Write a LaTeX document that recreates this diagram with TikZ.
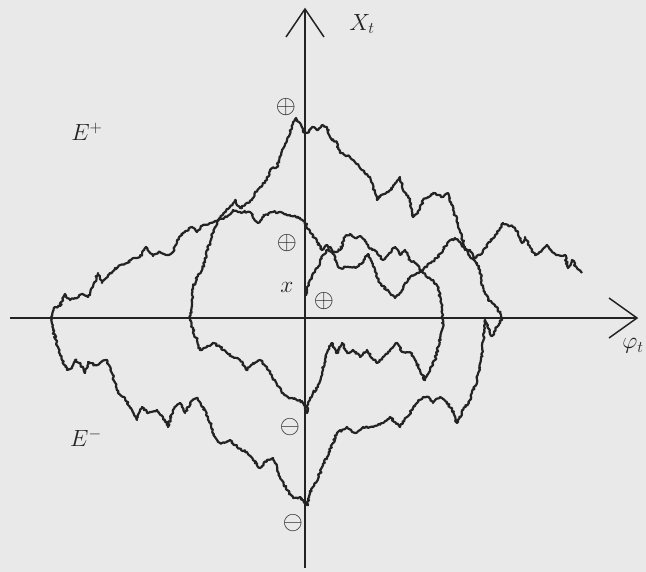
\documentclass[tikz,border=0pt]{standalone}
\usetikzlibrary{decorations.pathmorphing}
\definecolor{paper}{RGB}{233,233,233}
\definecolor{ink}{RGB}{35,35,35}
\tikzset{
  axisline/.style={draw=ink, line width=1.5pt},
  walk/.style={draw=ink, line width=2.2pt, line join=round,
    decorate, decoration={random steps, segment length=1.6pt, amplitude=1.1pt}},
  lbl/.style={text=ink, inner sep=0pt, font=\huge, scale=1.13, transform shape},
  sgn/.style={lbl, scale=1.1},
}
\begin{document}
\begin{tikzpicture}[x=1pt,y=-1pt]
\fill[paper] (0,0) rectangle (646,572);
\useasboundingbox (0,0) rectangle (646,572);
% axes
\coordinate (hl) at (10,318);
\coordinate (hr) at (637,318);
\coordinate (ha) at (609,298);
\coordinate (hb) at (609,338);
\coordinate (vb) at (305,568);
\coordinate (vt) at (305,9);
\coordinate (va) at (286,37);
\coordinate (vc) at (324,37);
\draw[axisline] (hl) -- (hr);
\draw[axisline] (ha) -- (hr) -- (hb);
\draw[axisline] (vb) -- (vt);
\draw[axisline] (va) -- (vt) -- (vc);
% labels
\node[lbl] (xt) at (362,24) {$X_t$};
\node[lbl, anchor=east] (phit) at (644,346) {$\varphi_t$};
\node[lbl] (ep) at (87,132) {$E^+$};
\node[lbl] (em) at (86,438) {$E^-$};
\node[sgn] (p1) at (286,107) {$\oplus$};
\node[sgn] (p2) at (287,243) {$\oplus$};
\node[lbl] (x0) at (287,287) {$x$};
\node[sgn] (p3) at (324,301) {$\oplus$};
\node[sgn] (m1) at (290,427) {$\ominus$};
\node[sgn] (m2) at (293,523) {$\ominus$};
% the path
\pgfmathsetseed{7}
\draw[walk] (306,296) -- (307,290) -- (310,280) -- (315,272) -- (320,263) -- (323,255) -- (327,250) -- (333,253) -- (340,250) -- (345,237) -- (350,234) -- (355,238) -- (360,236) -- (365,240) -- (368,245) -- (372,250) -- (377,252) -- (383,260) -- (388,255) -- (395,247) -- (400,255) -- (405,250) -- (410,260) -- (415,263) -- (423,273) -- (428,278) -- (433,280) -- (438,287) -- (441,300) -- (442,313) -- (443,320)
 -- (442,330) -- (438,347) -- (435,360) -- (430,370) -- (425,380) -- (420,370) -- (415,360) -- (410,352) -- (403,352) -- (397,343) -- (390,350) -- (383,357) -- (377,363) -- (372,358) -- (367,350) -- (360,357) -- (353,350) -- (347,353) -- (342,343) -- (337,353) -- (332,343) -- (328,350) -- (325,360) -- (322,373) -- (318,387) -- (313,393) -- (308,403) -- (307,413)
 -- (304,405) -- (300,400) -- (294,399) -- (288,397) -- (283,393) -- (277,385) -- (272,377) -- (267,367) -- (260,360) -- (253,363) -- (247,370) -- (240,360) -- (233,357) -- (227,353) -- (220,347) -- (213,343) -- (207,347) -- (200,350) -- (197,340) -- (193,330) -- (190,318)
 -- (192,303) -- (193,287) -- (197,277) -- (202,270) -- (205,260) -- (207,250) -- (210,243) -- (213,233) -- (217,223) -- (220,218) -- (225,212) -- (230,207) -- (235,200) -- (240,208) -- (245,205) -- (252,200) -- (255,193) -- (260,187) -- (267,180) -- (270,170) -- (277,167) -- (280,157) -- (287,140) -- (292,127) -- (296,118) -- (300,123) -- (303,132) -- (307,133) -- (312,127) -- (317,130) -- (322,125) -- (327,128) -- (330,137) -- (337,143) -- (340,153) -- (350,157) -- (353,160) -- (362,170) -- (370,177) -- (377,200) -- (380,197) -- (387,192) -- (393,187) -- (400,177) -- (403,190) -- (410,200) -- (413,217) -- (418,213) -- (423,200) -- (433,193) -- (443,197) -- (448,193) -- (453,210) -- (458,223) -- (462,237) -- (465,247) -- (470,257) -- (477,263) -- (480,270) -- (483,287) -- (488,300) -- (495,305) -- (500,313) -- (502,318) -- (497,327) -- (492,336) -- (488,328) -- (485,320)
 -- (484,330) -- (482,353) -- (477,380) -- (470,400) -- (463,410) -- (457,423) -- (452,410) -- (447,402) -- (440,397) -- (433,403) -- (428,397) -- (423,397) -- (417,403) -- (407,417) -- (400,427) -- (390,417) -- (383,423) -- (373,427) -- (363,427) -- (355,433) -- (347,427) -- (337,433) -- (333,443) -- (327,457) -- (320,473) -- (315,483) -- (310,493) -- (307,505)
 -- (305,503) -- (300,497) -- (293,498) -- (287,490) -- (280,477) -- (277,467) -- (273,458) -- (267,460) -- (260,468) -- (253,460) -- (247,452) -- (237,447) -- (230,440) -- (220,443) -- (215,437) -- (208,417) -- (203,407) -- (197,398) -- (190,403) -- (185,413) -- (180,403) -- (173,410) -- (168,427) -- (163,417) -- (157,410) -- (148,413) -- (142,407) -- (137,420) -- (132,410) -- (125,398) -- (118,393) -- (112,373) -- (107,360) -- (100,363) -- (95,365) -- (88,362) -- (85,373) -- (80,363) -- (75,360) -- (72,368) -- (67,370) -- (62,360) -- (58,347) -- (53,330) -- (51,318)
 -- (55,307) -- (60,306) -- (65,294) -- (70,300) -- (75,298) -- (82,294) -- (88,297) -- (93,287) -- (98,273) -- (102,283) -- (110,273) -- (118,267) -- (127,263) -- (135,258) -- (140,257) -- (146,247) -- (153,256) -- (160,252) -- (167,255) -- (173,252) -- (177,240) -- (185,232) -- (192,227) -- (197,232) -- (203,225) -- (210,223) -- (218,220) -- (227,217) -- (233,210) -- (240,212) -- (250,212) -- (258,223) -- (265,215) -- (273,212) -- (283,213) -- (290,215) -- (300,218) -- (305,222)
 -- (310,232) -- (317,242) -- (322,250) -- (327,245) -- (332,250) -- (337,263) -- (340,268) -- (347,267) -- (357,267) -- (362,263) -- (365,257) -- (368,254) -- (372,263) -- (380,283) -- (390,293) -- (395,298) -- (400,293) -- (405,283) -- (410,277) -- (417,273) -- (423,270) -- (430,263) -- (437,258) -- (443,250) -- (448,242) -- (455,238) -- (460,242) -- (465,250) -- (470,250) -- (475,258) -- (480,255) -- (485,248) -- (490,242) -- (495,235) -- (500,228) -- (503,223) -- (508,225) -- (513,227) -- (518,233) -- (522,243) -- (525,237) -- (530,247) -- (535,255) -- (540,252) -- (547,245) -- (552,252) -- (558,255) -- (565,255) -- (568,268) -- (572,260) -- (577,268) -- (582,273);
\end{tikzpicture}
\end{document}
